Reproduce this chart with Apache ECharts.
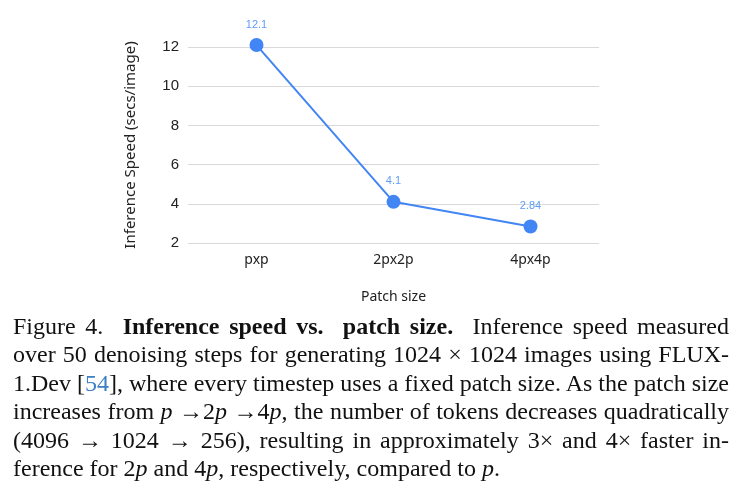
<!DOCTYPE html>
<html>
<head>
<meta charset="utf-8">
<script src="https://cdn.jsdelivr.net/npm/echarts@6/dist/echarts.min.js"></script>
<style>
  body { margin: 0; background: #fff; }
  #chart { position: absolute; left: 0; top: 0; width: 740px; height: 320px; }
  #caption {
    position: absolute; left: 13px; top: 312px; width: 716px;
    font-family: "Liberation Serif", serif; font-size: 24px; line-height: 28.4px; color: #111;
  }
  #caption div { text-align: justify; text-align-last: justify; white-space: nowrap; }
  #caption div.last { text-align-last: left; }
  #caption i { font-style: italic; }
  #caption .ref { color: #3b7fc4; }
</style>
</head>
<body>
<div id="chart"></div>
<div id="caption">
  <div>Figure 4.&nbsp; <b>Inference speed vs.&nbsp; patch size.</b>&nbsp; Inference speed measured</div>
  <div>over 50 denoising steps for generating 1024 × 1024 images using FLUX-</div>
  <div>1.Dev [<span class="ref">54</span>], where every timestep uses a fixed patch size. As the patch size</div>
  <div>increases from <i>p</i> →2<i>p</i> →4<i>p</i>, the number of tokens decreases quadratically</div>
  <div>(4096 → 1024 → 256), resulting in approximately 3× and 4× faster in-</div>
  <div class="last">ference for 2<i>p</i> and 4<i>p</i>, respectively, compared to <i>p</i>.</div>
</div>
<script>
var categories = ['pxp', '2px2p', '4px4p'];
var speed = [12.1, 4.1, 2.84];
var yTicks = { min: 2, max: 12, interval: 2 };

var chart = echarts.init(document.getElementById('chart'));

var option = {
  animation: false,
  grid: { left: 188, right: 141, top: 47, bottom: 77 },
  xAxis: {
    type: 'category',
    data: categories,
    boundaryGap: true,
    name: 'Patch size',
    nameLocation: 'middle',
    nameGap: 47,
    nameTextStyle: { fontFamily: 'Noto Sans', fontSize: 14, color: '#222' },
    axisLine: { show: false },
    axisTick: { show: false },
    axisLabel: { margin: 10, fontFamily: 'Noto Sans', fontSize: 14, color: '#222' }
  },
  yAxis: {
    type: 'value',
    min: yTicks.min,
    max: yTicks.max,
    interval: yTicks.interval,
    name: 'Inference Speed (secs/image)',
    nameLocation: 'middle',
    nameGap: 50,
    nameTextStyle: { fontFamily: 'Noto Sans', fontSize: 15, color: '#222' },
    axisLine: { show: false },
    axisTick: { show: false },
    axisLabel: { margin: 9, fontFamily: 'Liberation Sans', fontSize: 15, color: '#222' },
    splitLine: { lineStyle: { color: '#d9d9d9', width: 1 } }
  },
  series: [{
    type: 'line',
    data: speed,
    clip: false,
    symbol: 'circle',
    symbolSize: 14,
    lineStyle: { color: '#4285f4', width: 2 },
    itemStyle: { color: '#4285f4' },
    label: {
      show: true,
      position: 'top',
      distance: 8,
      fontFamily: 'Liberation Sans',
      fontSize: 11,
      color: '#5f9cf7'
    }
  }]
};

chart.setOption(option);
</script>
</body>
</html>
